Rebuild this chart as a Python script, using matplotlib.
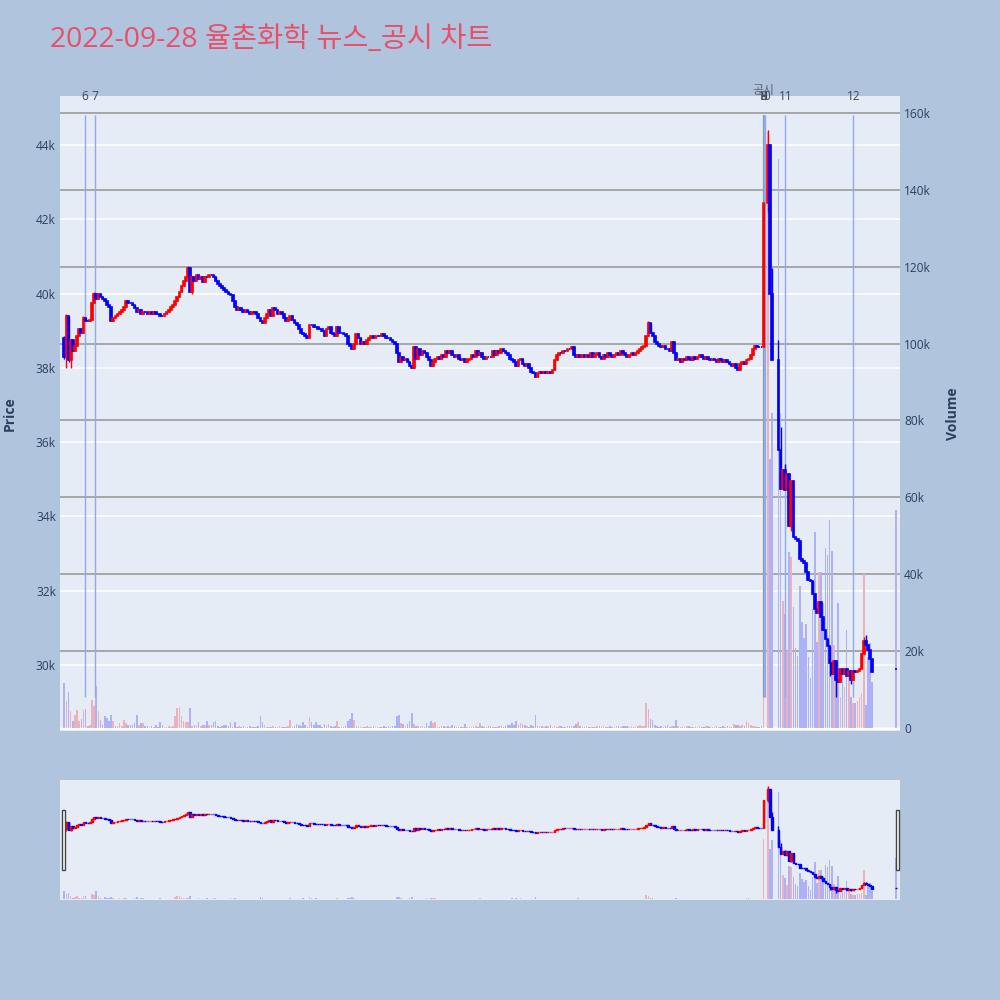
#!/usr/bin/env python3

import matplotlib
matplotlib.use('Agg')
import matplotlib.pyplot as plt
from matplotlib.patches import Rectangle
from matplotlib.ticker import FuncFormatter, MultipleLocator
from matplotlib.transforms import blended_transform_factory

# minutes after 09:00 that have a candle (VI halts at 14:29 and 14:33-14:34,
# closing auction at 15:30)
minutes = list(range(0, 329)) + [330, 331, 332] + list(range(335, 380)) + [390]

closes = [
    38300, 39400, 38200, 38750, 38450, 38600, 38850, 39050, 38950, 39350,
    39250, 39250, 39300, 39750, 40000, 39850, 40000, 39900, 39850, 39800,
    39700, 39650, 39250, 39350, 39400, 39450, 39500, 39550, 39650, 39800,
    39750, 39750, 39700, 39600, 39500, 39550, 39450, 39500, 39500, 39450,
    39500, 39450, 39500, 39450, 39450, 39400, 39400, 39450, 39500, 39550,
    39650, 39700, 39800, 39900, 40050, 40200, 40350, 40450, 40700, 40050,
    40450, 40350, 40500, 40400, 40450, 40300, 40450, 40450, 40500, 40500,
    40450, 40350, 40250, 40200, 40150, 40100, 40050, 40000, 39950, 39800,
    39650, 39550, 39600, 39550, 39500, 39550, 39500, 39450, 39500, 39500,
    39450, 39350, 39250, 39200, 39350, 39450, 39550, 39400, 39600, 39550,
    39450, 39500, 39450, 39350, 39250, 39300, 39400, 39300, 39200, 39150,
    39050, 38950, 38900, 38850, 38800, 39150, 39150, 39100, 39100, 39050,
    39050, 39000, 38850, 39050, 39100, 38950, 38900, 38850, 39100, 38950,
    38950, 38900, 38850, 38650, 38600, 38500, 38650, 38900, 38800, 38650,
    38700, 38650, 38750, 38800, 38850, 38800, 38850, 38850, 38850, 38900,
    38850, 38800, 38800, 38750, 38700, 38650, 38400, 38150, 38300, 38200,
    38250, 38150, 38050, 38000, 38550, 38250, 38500, 38350, 38450, 38400,
    38300, 38200, 38050, 38150, 38250, 38300, 38250, 38350, 38300, 38450,
    38400, 38450, 38350, 38300, 38350, 38250, 38200, 38250, 38150, 38200,
    38250, 38350, 38300, 38450, 38350, 38400, 38300, 38250, 38300, 38300,
    38300, 38450, 38350, 38450, 38400, 38500, 38450, 38400, 38350, 38250,
    38200, 38150, 38050, 38200, 38250, 38100, 38050, 38100, 38000, 37900,
    37850, 37750, 37850, 37900, 37850, 37900, 37850, 37900, 37850, 37950,
    38200, 38350, 38400, 38400, 38450, 38450, 38500, 38500, 38550, 38350,
    38300, 38350, 38300, 38350, 38300, 38350, 38300, 38400, 38300, 38350,
    38400, 38300, 38250, 38350, 38300, 38400, 38350, 38300, 38350, 38400,
    38350, 38450, 38400, 38350, 38300, 38350, 38400, 38350, 38400, 38450,
    38500, 38550, 38600, 38850, 39200, 38950, 38850, 38700, 38650, 38600,
    38550, 38600, 38500, 38500, 38450, 38700, 38400, 38200, 38250, 38150,
    38250, 38200, 38300, 38250, 38200, 38300, 38250, 38300, 38350, 38300,
    38250, 38300, 38250, 38200, 38250, 38200, 38150, 38250, 38200, 38150,
    38200, 38150, 38100, 38050, 38100, 38000, 37950, 38100, 38150, 38100,
    38200, 38250, 38350, 38500, 38600, 38550, 38550, 38550,
    42450, 44000, 40000, 38200,
    35800, 34750, 35250, 34700, 35150, 33750, 34950, 33450, 33400, 33350,
    32850, 32800, 32750, 32500, 32300, 32250, 31900, 31500, 31400, 31700,
    31300, 30950, 30700, 30500, 30050, 29750, 30100, 29600, 29550, 29900,
    29750, 29900, 29700, 29850, 29600, 29850, 29800, 29850, 29900, 30300,
    30650, 30550, 30400, 30150, 29800,
    29900,
]

# volume, thousand shares
volumes = [
    11.6, 7.0, 9.3, 4.5, 1.9, 3.3, 4.8, 1.9, 2.4, 4.7,
    4.9, 0.6, 0.8, 7.4, 5.6, 11.0, 4.3, 2.2, 0.8, 3.0,
    2.6, 1.7, 3.5, 1.7, 0.6, 0.6, 1.3, 0.6, 2.2, 1.3,
    0.9, 0.9, 0.9, 1.3, 3.5, 0.9, 1.3, 1.3, 0.5, 0.4,
    0.3, 0.5, 0.3, 0.9, 0.3, 1.5, 0.9, 0.2, 0.3, 0.4,
    0.3, 0.6, 3.2, 5.2, 5.4, 3.2, 1.7, 1.6, 1.6, 5.2,
    0.6, 0.9, 0.9, 1.6, 0.6, 0.9, 0.8, 1.9, 0.9, 0.9,
    1.5, 1.7, 0.6, 0.3, 0.5, 0.9, 0.9, 0.4, 1.5, 0.3,
    1.5, 0.3, 0.4, 0.2, 0.5, 0.3, 0.2, 0.6, 0.3, 0.2,
    0.3, 0.5, 3.2, 1.5, 0.8, 0.3, 0.2, 0.3, 0.5, 0.2,
    0.2, 0.4, 0.3, 0.2, 0.3, 0.5, 2.2, 0.3, 0.4, 1.0,
    0.9, 0.5, 1.5, 0.9, 0.3, 2.8, 1.6, 0.9, 1.5, 0.9,
    0.9, 0.3, 1.1, 0.6, 1.1, 0.4, 0.3, 0.4, 1.9, 0.3,
    0.2, 0.3, 0.5, 1.7, 2.3, 3.9, 2.2, 0.6, 0.3, 0.2,
    0.3, 0.2, 0.4, 0.2, 0.3, 0.5, 0.3, 0.2, 0.3, 0.2,
    0.4, 0.3, 0.5, 0.3, 0.4, 0.6, 3.2, 3.5, 1.3, 1.0,
    0.6, 1.0, 1.7, 3.9, 1.0, 0.6, 0.6, 0.3, 0.6, 0.3,
    1.3, 0.6, 1.7, 1.3, 1.5, 0.2, 0.3, 0.5, 0.4, 0.3,
    0.6, 0.3, 0.8, 0.6, 0.3, 0.2, 0.3, 0.2, 1.0, 0.3,
    0.2, 0.3, 0.2, 0.4, 0.3, 1.3, 0.6, 0.2, 0.3, 0.4,
    0.5, 0.2, 0.3, 0.3, 0.4, 0.6, 0.2, 0.6, 0.9, 0.9,
    1.3, 0.9, 1.9, 0.9, 1.3, 1.1, 0.9, 0.6, 0.3, 0.9,
    0.5, 3.3, 0.4, 0.5, 0.6, 0.3, 0.6, 0.4, 0.9, 0.3,
    0.6, 0.3, 0.6, 0.4, 0.3, 0.2, 0.4, 0.6, 0.6, 0.6,
    1.0, 1.5, 0.4, 0.3, 0.2, 0.5, 0.3, 0.2, 0.3, 0.3,
    0.5, 0.4, 0.3, 0.5, 0.3, 0.2, 0.4, 0.3, 0.2, 0.5,
    0.5, 0.3, 0.6, 0.6, 0.6, 0.3, 0.6, 0.2, 0.3, 0.5,
    0.9, 0.6, 0.5, 6.5, 4.9, 2.4, 2.2, 0.9, 0.6, 0.3,
    0.6, 0.2, 0.6, 0.9, 0.3, 0.6, 0.4, 2.0, 0.6, 0.3,
    0.5, 0.2, 0.4, 0.6, 0.3, 0.2, 0.3, 0.2, 0.4, 0.3,
    0.2, 0.4, 0.5, 0.3, 0.3, 0.2, 0.4, 0.3, 0.2, 0.4,
    0.3, 0.5, 0.3, 0.3, 1.0, 0.7, 0.9, 0.6, 0.9, 0.6,
    1.9, 1.3, 0.9, 0.6, 0.4, 0.3, 0.3, 0.4,
    83.0, 155.0, 70.0, 82.0,
    148.0, 82.0, 33.0, 29.6, 20.0, 45.8, 44.5, 31.5, 20.8, 18.7,
    37.0, 27.6, 23.4, 27.0, 18.5, 13.0, 31.0, 51.0, 22.4, 40.6,
    40.6, 32.5, 46.8, 45.0, 54.0, 46.0, 21.6, 14.3, 32.5, 8.0,
    13.8, 10.7, 25.5, 13.3, 8.0, 6.5, 6.5, 7.0, 8.0, 9.0,
    40.0, 6.0, 18.5, 22.0, 12.0,
    56.7,
]

# opens that differ from the previous close
open_prices = {0: 38800, 390: 29900}
# wicks beyond the bodies
wick_high = {0: 38850, 1: 39450, 9: 39400, 14: 40050, 58: 40750,
             274: 39250, 330: 44400, 332: 40700, 335: 38750, 336: 36400,
             338: 35400, 342: 34800, 375: 30750, 376: 30800}
wick_low = {0: 38250, 1: 38000, 2: 38150, 3: 38000, 60: 40000,
            330: 42200, 341: 33600, 359: 29700, 362: 29150, 369: 29500}

event_labels = ['6', '7', '8', '9', '10', '11', '12']
event_minutes = [9.5, 14.5, 328.1, 328.1, 328.8, 338.2, 370.1]
disclosure_minute = 328.0

title = '2022-09-28 율촌화학 뉴스_공시 차트'

BG = '#b0c4de'
PLOT_BG = '#e5ecf6'
INK = '#2a3f5f'
UP, DOWN = '#ff0000', '#0000ff'
UP_VOL, DOWN_VOL = '#ecb1b9', '#acb1f8'
EVENT = '#93a9ea'

X_RANGE = (-2.0, 392.0)
PRICE_RANGE = (28223, 45317)
VOL_RANGE = (-780, 164400)
LINE_RANGE = (29140, 44800)


def build_ohlc():
    opens = [open_prices.get(m, closes[i - 1]) for i, m in enumerate(minutes)]
    highs = [max(o, c, wick_high.get(m, 0))
             for o, c, m in zip(opens, closes, minutes)]
    lows = [min(o, c, wick_low.get(m, 1e9))
            for o, c, m in zip(opens, closes, minutes)]
    return opens, highs, lows


def px_box(left, top, right, bottom):
    return [left / 1000, 1 - bottom / 1000,
            (right - left) / 1000, (bottom - top) / 1000]


def draw_candles(ax_p, ax_v, opens, highs, lows, body_lw=1.2):
    up = [c > o for o, c in zip(opens, closes)]
    vcol = [UP_VOL if u else DOWN_VOL for u in up]
    ccol = [UP if u else DOWN for u in up]
    vols = [v * 1000 for v in volumes]

    ax_v.bar(minutes, vols, width=0.75, color=vcol, linewidth=0, zorder=2)

    ax_p.vlines(minutes, lows, highs, colors=ccol, linewidth=1.0, zorder=3)
    bottoms = [min(o, c) for o, c in zip(opens, closes)]
    heights = [abs(c - o) for o, c in zip(opens, closes)]
    ax_p.bar(minutes, heights, bottom=bottoms, width=0.8, color=ccol,
             edgecolor=ccol, linewidth=body_lw, zorder=4)

    for ax in (ax_p, ax_v):
        ax.set_xlim(*X_RANGE)
    ax_p.set_ylim(*PRICE_RANGE)
    ax_v.set_ylim(*VOL_RANGE)


def style_axes(ax):
    for s in ax.spines.values():
        s.set_visible(False)
    ax.tick_params(length=0, colors=INK, labelsize=8.6)


def main():
    plt.rcParams['font.family'] = ['Open Sans', 'Noto Sans CJK KR', 'DejaVu Sans']
    opens, highs, lows = build_ohlc()

    fig = plt.figure(figsize=(10, 10), dpi=100, facecolor=BG)

    # main chart: volume axes underneath, price twin on top
    ax_v = fig.add_axes(px_box(60, 96, 900, 731))
    ax_v.set_facecolor(PLOT_BG)
    ax_p = ax_v.twinx()
    draw_candles(ax_p, ax_v, opens, highs, lows)

    # price grid sits under the bars, as in plotly
    tr = blended_transform_factory(ax_v.transAxes, ax_p.transData)
    for p in range(30000, 45000, 2000):
        ax_v.plot([0, 1], [p, p], color='white', lw=1.1, transform=tr, zorder=0.5)
    ax_v.set_axisbelow(True)
    ax_v.yaxis.set_major_locator(MultipleLocator(20000))
    ax_v.grid(axis='y', color='#9b9b9b', lw=1.2, zorder=1)
    ax_v.axhline(0, color='white', lw=2, zorder=1.5)

    ax_p.yaxis.set_major_locator(MultipleLocator(2000))
    ax_p.yaxis.set_major_formatter(FuncFormatter(lambda v, _: f'{v/1000:.0f}k'))
    ax_v.yaxis.set_major_formatter(
        FuncFormatter(lambda v, _: '0' if v == 0 else f'{v/1000:.0f}k'))
    ax_p.yaxis.tick_left()
    ax_v.yaxis.tick_right()
    style_axes(ax_p)
    style_axes(ax_v)
    ax_p.tick_params(axis='y', pad=3)
    ax_v.tick_params(axis='y', pad=3)

    xt = list(range(0, 361, 60))
    xl = ['09:00\nSep 28, 2022'] + [f'{9 + i:02d}:00' for i in range(1, 7)]
    ax_v.set_xticks(xt)
    ax_v.set_xticklabels(xl)
    ax_v.tick_params(axis='x', pad=4)
    ax_p.set_xticks([])

    ax_p.set_ylabel('Price', color=INK, fontsize=10, fontweight='bold')
    ax_p.yaxis.set_label_position('left')
    ax_p.yaxis.set_label_coords(-0.0595, 0.5)
    ax_p.yaxis.label.set_va('center')
    ax_v.set_ylabel('Volume', color=INK, fontsize=10, fontweight='bold')
    ax_v.yaxis.set_label_position('right')
    ax_v.yaxis.set_label_coords(1.0630, 0.5)
    ax_v.yaxis.label.set_va('center')

    # event markers
    ax_p.vlines([disclosure_minute], *LINE_RANGE, colors='#7f9c8c', lw=1.6, zorder=2)
    ax_p.vlines(event_minutes, *LINE_RANGE, colors=EVENT, lw=1.0, zorder=2.5)
    lbl_tr = blended_transform_factory(ax_p.transData, ax_p.transAxes)
    for lab, m in zip(event_labels, event_minutes):
        ax_p.text(m, 0.9985, lab, transform=lbl_tr, ha='center', va='center',
                  fontsize=8.6, color='#3f4a5a', clip_on=False)
    ax_p.text(disclosure_minute, 1.0094, '공시', transform=lbl_tr, ha='center',
              va='center', fontsize=8.6, color='#5f6670', clip_on=False)

    # range slider
    sv = fig.add_axes(px_box(60, 780, 900, 900))
    sv.set_facecolor(PLOT_BG)
    sp = sv.twinx()
    draw_candles(sp, sv, opens, highs, lows, body_lw=1.0)
    for ax in (sv, sp):
        ax.set_xticks([])
        ax.set_yticks([])
        for s in ax.spines.values():
            s.set_visible(False)
    for x0 in (61.5, 895.5):
        fig.patches.append(Rectangle((x0 / 1000, 1 - 870 / 1000), 3.5 / 1000,
                                     60 / 1000, transform=fig.transFigure,
                                     facecolor='white', edgecolor='#444444',
                                     lw=1.0, zorder=10))

    fig.text(50 / 1000, 1 - 40 / 1000, title, ha='left', va='center',
             fontsize=20.4, color='#e8506a')

    fig.savefig('out.png', dpi=100, facecolor=BG)


if __name__ == '__main__':
    main()
